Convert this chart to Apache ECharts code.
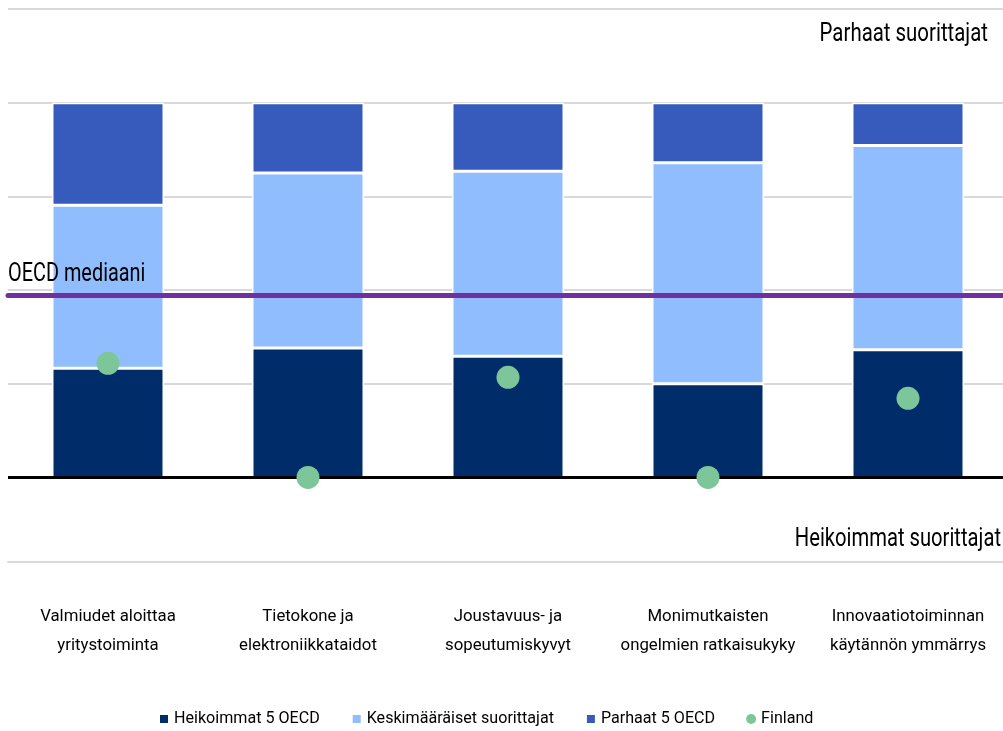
<!DOCTYPE html>
<html>
<head>
<meta charset="utf-8">
<script src="https://cdn.jsdelivr.net/npm/echarts@6/dist/echarts.min.js"></script>
<style>
html,body{margin:0;padding:0;background:#fff;}
#c{width:1003px;height:731px;}
</style>
</head>
<body>
<div id="c"></div>
<script>
var categories = ['Valmiudet aloittaa\nyritystoiminta', 'Tietokone ja\nelektroniikkataidot', 'Joustavuus- ja\nsopeutumiskyvyt', 'Monimutkaisten\nongelmien ratkaisukyky', 'Innovaatiotoiminnan\nkäytännön ymmärrys'];
var weakest5 = [1.164, 1.381, 1.292, 1.0, 1.363];
var average = [1.74, 1.868, 1.975, 2.359, 2.181];
var best5 = [1.096, 0.751, 0.733, 0.641, 0.456];
var finland = [1.218, 0, 1.068, 0, 0.844];
var oecdMedian = 1.939;
var gridValues = [1, 2, 3, 4, 5];
var seriesNames = ['Heikoimmat 5 OECD', 'Keskimääräiset suorittajat', 'Parhaat 5 OECD', 'Finland'];

var FONT = 'Roboto, "Liberation Sans", sans-serif';
var chart = echarts.init(document.getElementById('c'), null, {renderer: 'canvas'});
var barStyle = function (c) { return {color: c, borderColor: '#fff', borderWidth: 1.5}; };
var note = function (txt, x, y, align, sx) {
  return {type: 'text', z: 100, x: x, y: y, scaleX: sx,
    style: {text: txt, fontSize: 26, fill: '#000', fontFamily: FONT, align: align, verticalAlign: 'middle'}};
};
chart.setOption({
  animation: false,
  textStyle: {fontFamily: FONT},
  grid: {left: 8, width: 1000, top: 9, bottom: 169.3, containLabel: false, outerBoundsMode: 'none'},
  xAxis: {
    type: 'category', data: categories,
    axisLine: {onZero: false, lineStyle: {color: '#d9d9d9', width: 2}},
    axisTick: {show: false},
    axisLabel: {margin: 41, fontSize: 16.8, lineHeight: 28.5, color: '#000', fontFamily: FONT, interval: 0, hideOverlap: false}
  },
  yAxis: {type: 'value', min: -0.9, max: 5, show: false, splitLine: {show: false}},
  legend: {
    top: 711, left: 158, padding: 0, itemWidth: 10, itemHeight: 10, itemGap: 31,
    textStyle: {fontSize: 16.1, color: '#000', fontFamily: FONT},
    data: [
      {name: seriesNames[0], icon: 'rect'},
      {name: seriesNames[1], icon: 'rect'},
      {name: seriesNames[2], icon: 'rect'},
      {name: seriesNames[3], icon: 'circle', itemStyle: {opacity: 1}}
    ]
  },
  graphic: [
    note('Parhaat suorittajat', 988, 34, 'right', 0.785),
    note('Heikoimmat suorittajat', 1001, 539, 'right', 0.777),
    note('OECD mediaani', 8, 274, 'left', 0.765)
  ],
  series: [
    {
      name: seriesNames[0], type: 'bar', stack: 's', barWidth: 112, data: weakest5,
      itemStyle: barStyle('#002D6A'),
      markLine: {
        silent: true, symbol: 'none', z: 1, animation: false,
        label: {show: false},
        lineStyle: {color: '#d9d9d9', width: 2, type: 'solid'},
        data: gridValues.map(function (v) { return {yAxis: v}; })
      }
    },
    {
      name: seriesNames[1], type: 'bar', stack: 's', barWidth: 112, data: average,
      itemStyle: barStyle('#8FBDFE')
    },
    {
      name: seriesNames[2], type: 'bar', stack: 's', barWidth: 112, data: best5,
      itemStyle: barStyle('#365BBC'),
      markLine: {
        silent: true, symbol: 'none', z: 4, animation: false,
        label: {show: false},
        data: [
          {yAxis: 0, lineStyle: {color: '#000', width: 3, type: 'solid'}},
          {yAxis: oecdMedian, lineStyle: {color: '#7030A0', width: 5, type: 'solid', cap: 'round'}}
        ]
      }
    },
    {
      name: seriesNames[3], type: 'scatter', symbol: 'circle', symbolSize: 23, z: 6, data: finland,
      itemStyle: {color: '#7DC699', opacity: 1}
    }
  ]
});
</script>
</body>
</html>
